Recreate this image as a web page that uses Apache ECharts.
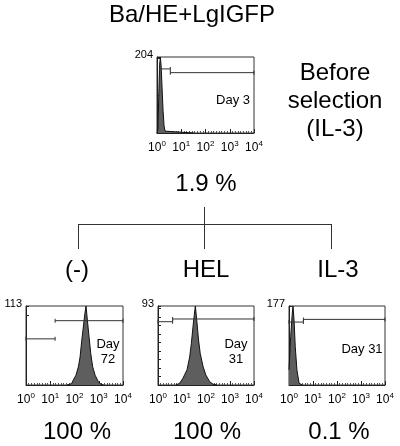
<!DOCTYPE html>
<html><head><meta charset="utf-8">
<script src="https://cdn.jsdelivr.net/npm/echarts@6/dist/echarts.min.js"></script>
<style>html,body{margin:0;padding:0;background:#fff}#c{width:400px;height:446px}</style>
</head><body><div id="c"></div>
<script>
// ---- data ----
const tickExponents = ['0', '1', '2', '3', '4'];
const yMax = [204, 113, 93, 177];
const yTickStep = [100, 100, 10, 100];
const dayLabels = ['Day 3', 'Day\n72', 'Day\n31', 'Day 31'];
const percentLabels = ['1.9 %', '100 %', '100 %', '0.1 %'];
const branchLabels = ['(-)', 'HEL', 'IL-3'];
const title = 'Ba/HE+LgIGFP';
const beforeLabel = 'Before\nselection\n(IL-3)';

// histogram x in decades (log10 fluorescence), y = counts
const topX = [0, 0.04, 0.08, 0.11, 0.14, 0.17, 0.21, 0.25, 0.29, 0.33, 0.4, 1.5];
const topY = [0, 10, 120, 185, 204, 180, 120, 60, 20, 5, 1, 0];
const blX = [1.7, 1.88, 1.95, 2.06, 2.16, 2.23, 2.30, 2.365, 2.42, 2.475, 2.53, 2.60, 2.67, 2.75, 2.85, 2.98, 3.05, 3.2];
const blY = [0, 2, 7, 14, 26, 40, 64, 83, 100, 113, 93, 69, 45, 26, 14, 5, 2, 0];
const bmX = [0.75, 0.90, 1.04, 1.21, 1.32, 1.39, 1.46, 1.51, 1.556, 1.625, 1.69, 1.76, 1.875, 1.99, 2.15, 2.29, 2.45];
const bmY = [0, 2, 8, 18, 33, 49, 69, 82, 93, 73, 53, 37, 22, 12, 4, 1, 0];
const brX = [0, 0.07, 0.125, 0.167, 0.21, 0.26, 0.33, 0.42, 0.55];
const brY = [34, 108, 153, 177, 146, 86, 34, 4, 0];

// marker gates: boundaries (decades) and levels (counts)
const topGateX = [0.1, 0.55, 4];
const topGateLevel = [172, 162];
const blGateX = [0, 1.2, 4];
const blGateLevel = [66, 92];
const bmGateX = [0, 0.61, 4];
const bmGateLevel = [74.5, 77.7];
const brGateX = [0, 0.6, 4];
const brGateLevel = [141, 147];

// ---- build ----
const FONT = '"Liberation Sans", Arial, Helvetica, sans-serif';
const histX = [topX, blX, bmX, brX];
const histY = [topY, blY, bmY, brY];
const gateX = [topGateX, blGateX, bmGateX, brGateX];
const gateLevel = [topGateLevel, blGateLevel, bmGateLevel, brGateLevel];

const grids = [
  {left: 157, top: 57, width: 97, height: 76},
  {left: 26, top: 306, width: 97, height: 79},
  {left: 158, top: 306, width: 96, height: 79},
  {left: 289, top: 306, width: 96, height: 79}
].map(g => Object.assign({show: true, borderColor: '#333', borderWidth: 1, backgroundColor: 'transparent'}, g));

const xAxes = grids.map((g, i) => ({
  type: 'value', gridIndex: i, min: 0, max: 4, interval: 1,
  axisLine: {show: true, lineStyle: {color: '#222', width: 1}},
  axisTick: {show: true, inside: true, length: 4, lineStyle: {color: '#222'}},
  minorTick: {show: true, splitNumber: 9, length: 2, lineStyle: {color: '#555'}},
  splitLine: {show: false},
  axisLabel: {
    margin: 7,
    formatter: v => '{b|10}{s|' + tickExponents[v] + '}',
    rich: {
      b: {fontSize: 12, fontFamily: FONT, color: '#000'},
      s: {fontSize: 8, fontFamily: FONT, color: '#000', padding: [0, 0, 8, 0]}
    }
  }
}));

const yAxes = grids.map((g, i) => ({
  type: 'value', gridIndex: i, min: 0, max: yMax[i], interval: yTickStep[i],
  axisLine: {show: true, lineStyle: {color: '#222', width: 1}},
  axisTick: {show: true, inside: true, length: 3, lineStyle: {color: '#222'}},
  axisLabel: {show: false},
  splitLine: {show: false},
  name: String(yMax[i]), nameLocation: 'end', nameGap: 2,
  nameTextStyle: {fontSize: 11, fontFamily: FONT, color: '#000', align: 'right', verticalAlign: 'middle', padding: [0, 4, 0, 0]}
}));

const series = [];
for (let i = 0; i < 4; i++) {
  series.push({
    type: 'line', xAxisIndex: i, yAxisIndex: i, symbol: 'none', z: 3,
    data: histX[i].map((x, k) => [x, histY[i][k]]),
    lineStyle: {color: '#111', width: 1},
    areaStyle: {color: '#5e5e5e', opacity: 1}
  });
  for (let k = 0; k < gateLevel[i].length; k++) {
    series.push({
      type: 'line', xAxisIndex: i, yAxisIndex: i, z: 4,
      symbol: 'rect', symbolSize: [1, 4], showAllSymbol: true,
      itemStyle: {color: '#333'},
      lineStyle: {color: '#333', width: 1},
      data: [[gateX[i][k], gateLevel[i][k]], [gateX[i][k + 1], gateLevel[i][k]]]
    });
  }
}

const txt = (text, x, y, size, extra) => ({
  type: 'text', x, y,
  style: Object.assign({text, fill: '#000', font: size + 'px ' + FONT, textAlign: 'center', textVerticalAlign: 'middle'}, extra || {})
});
const ln = (x1, y1, x2, y2) => ({type: 'line', shape: {x1, y1, x2, y2}, style: {stroke: '#333', lineWidth: 1}});

const graphic = [
  txt(title, 192, 15, 24),
  txt(beforeLabel, 335, 101, 24, {lineHeight: 28}),
  txt(dayLabels[0], 233, 100, 13),
  txt(dayLabels[1], 108, 352, 13, {lineHeight: 15}),
  txt(dayLabels[2], 236, 352, 13, {lineHeight: 15}),
  txt(dayLabels[3], 362, 349, 13),
  txt(percentLabels[0], 206, 184, 24),
  txt(percentLabels[1], 77, 432, 24),
  txt(percentLabels[2], 207, 432, 24),
  txt(percentLabels[3], 339, 432, 24),
  txt(branchLabels[0], 77, 270, 24),
  txt(branchLabels[1], 206, 270, 24),
  txt(branchLabels[2], 338, 270, 24),
  ln(204.5, 207, 204.5, 249),
  ln(78.5, 224.5, 331.5, 224.5),
  ln(78.5, 224, 78.5, 249),
  ln(331.5, 224, 331.5, 249)
];

const chart = echarts.init(document.getElementById('c'), null, {renderer: 'canvas'});
chart.setOption({
  backgroundColor: '#fff',
  animation: false,
  grid: grids, xAxis: xAxes, yAxis: yAxes, series, graphic
});
</script></body></html>
